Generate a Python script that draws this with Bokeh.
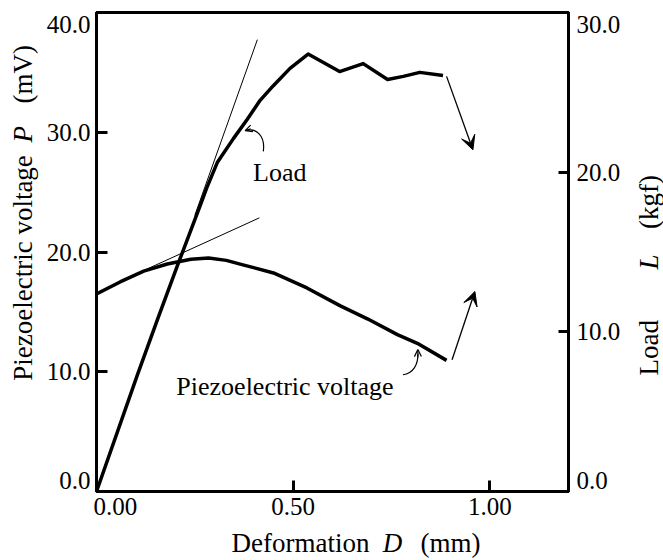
import math
from bokeh.plotting import figure
from bokeh.layouts import column, row
from bokeh.core.properties import value
from bokeh.models import (Range1d, LinearAxis, FixedTicker, NumeralTickFormatter,
                          Label, Arrow, VeeHead, OpenHead)
from bokeh.embed import file_html
from bokeh.resources import INLINE

# ---------------- data ----------------
load_x = [0.0, 0.104, 0.157, 0.205, 0.239, 0.265, 0.280, 0.307, 0.348, 0.383,
          0.416, 0.449, 0.492, 0.538, 0.618, 0.678, 0.740, 0.780, 0.822, 0.881]
load_kgf = [0.0, 7.3, 10.9, 14.1, 16.3, 18.0, 19.0, 20.6, 22.1, 23.3,
            24.5, 25.4, 26.5, 27.4, 26.3, 26.8, 25.8, 26.0, 26.25, 26.05]

volt_x = [0.0, 0.06, 0.12, 0.18, 0.24, 0.285, 0.33, 0.37, 0.45, 0.535,
          0.62, 0.69, 0.765, 0.82, 0.89]
volt_mv = [16.5, 17.5, 18.4, 19.0, 19.4, 19.5, 19.3, 18.95, 18.25, 17.0,
           15.5, 14.4, 13.1, 12.3, 10.95]

load_tangent_x = [0.25, 0.409]
load_tangent_kgf = [17.3, 28.3]
volt_tangent_x = [0.12, 0.414]
volt_tangent_mv = [18.45, 22.85]

load_drop_x = [0.890, 0.957]
load_drop_kgf = [26.0, 21.4]
volt_jump_x = [0.904, 0.962]
volt_jump_mv = [11.0, 16.7]

x_ticks = [0.0, 0.5, 1.0]
x_tick_labels = ["0.00", "0.50", "1.00"]
left_ticks = [0, 10, 20, 30, 40]
left_tick_labels = ["0.0", "10.0", "20.0", "30.0", "40.0"]
right_ticks = [0, 10, 20, 30]
right_tick_labels = ["0.0", "10.0", "20.0", "30.0"]

x_title = ["Deformation", "D", "(mm)"]
left_title = ["Piezoelectric voltage", "P", "(mV)"]
right_title = ["Load", "L", "(kgf)"]
title_italic = ["normal", "italic", "normal"]

SERIF = "Liberation Serif"
NBSP = "\u00a0"

# page geometry (pixels)
MAIN_H = 522
TOP, BOTTOM = 12, 30

# ---------------- main plot ----------------
p = figure(width=583, height=MAIN_H, output_backend="svg", toolbar_location=None,
           x_range=Range1d(0, 1.2), y_range=Range1d(0, 40),
           x_axis_location=None, y_axis_location=None,
           min_border_left=56, min_border_right=54, min_border_top=TOP,
           min_border_bottom=BOTTOM)
p.extra_y_ranges = {"load": Range1d(0, 30)}
for g in p.grid:
    g.visible = False
p.outline_line_color = "black"
p.outline_line_width = 3
p.background_fill_color = "white"
p.border_fill_color = "white"


def style_axis(ax, standoff, tick_in):
    ax.axis_line_width = 3
    ax.axis_line_color = "black"
    ax.major_tick_line_width = 3
    ax.major_tick_in = tick_in
    ax.major_tick_out = 0
    ax.minor_tick_line_color = None
    ax.major_label_text_font = SERIF
    ax.major_label_text_font_size = "25px"
    ax.major_label_text_color = "black"
    ax.major_label_standoff = standoff


xaxis = LinearAxis(ticker=FixedTicker(ticks=x_ticks),
                   formatter=NumeralTickFormatter(format="0.00"))
style_axis(xaxis, 1, 11)
# first label sits just right of the corner, as in the reference
xaxis.major_label_overrides = {0: NBSP * 6 + x_tick_labels[0]}
p.add_layout(xaxis, "below")

laxis = LinearAxis(ticker=FixedTicker(ticks=left_ticks),
                   formatter=NumeralTickFormatter(format="0.0"))
style_axis(laxis, 6, 11)
laxis.major_label_text_line_height = 0.4
laxis.major_label_overrides = {0: left_tick_labels[0] + "\n\n",
                               40: "\n" + left_tick_labels[-1]}
p.add_layout(laxis, "left")

raxis = LinearAxis(y_range_name="load", ticker=FixedTicker(ticks=right_ticks),
                   formatter=NumeralTickFormatter(format="0.0"))
style_axis(raxis, 8, 10)
raxis.major_label_text_line_height = 0.4
raxis.major_label_overrides = {0: right_tick_labels[0] + "\n\n",
                               30: "\n" + right_tick_labels[-1]}
p.add_layout(raxis, "right")

# curves
p.line(load_x, load_kgf, y_range_name="load", line_color="black", line_width=3.5,
       line_join="round")
p.line(volt_x, volt_mv, line_color="black", line_width=3.5, line_join="round")
p.line(load_tangent_x, load_tangent_kgf, y_range_name="load", line_color="black",
       line_width=1)
p.line(volt_tangent_x, volt_tangent_mv, line_color="black", line_width=1)

p.add_layout(Arrow(end=VeeHead(size=14, fill_color="black", line_color="black", line_width=1),
                   x_start=load_drop_x[0], y_start=load_drop_kgf[0],
                   x_end=load_drop_x[1], y_end=load_drop_kgf[1],
                   y_range_name="load", line_color="black", line_width=1.3))
p.add_layout(Arrow(end=VeeHead(size=14, fill_color="black", line_color="black", line_width=1),
                   x_start=volt_jump_x[0], y_start=volt_jump_mv[0],
                   x_end=volt_jump_x[1], y_end=volt_jump_mv[1],
                   line_color="black", line_width=1.3))

# curve labels
p.add_layout(Label(x=0.398, y=26.67, text="Load", text_font=SERIF, text_font_size="26px",
                   text_align="left", text_baseline="alphabetic", text_color="black"))
p.add_layout(Label(x=0.203, y=8.75, text="Piezoelectric voltage", text_font=SERIF,
                   text_font_size="26px", text_align="left", text_baseline="alphabetic",
                   text_color="black"))

# small curled pointers
p.bezier(x0=[0.424], y0=[21.3], x1=[0.383], y1=[22.62], cx0=[0.430], cy0=[22.3],
         cx1=[0.405], cy1=[22.75], y_range_name="load", line_color="black", line_width=1.2)
p.add_layout(Arrow(end=OpenHead(size=7, line_color="black", line_width=1.2),
                   x_start=0.392, y_start=22.72, x_end=0.378, y_end=22.6,
                   y_range_name="load", line_color="black", line_width=1.2))
p.bezier(x0=[0.779], y0=[9.75], x1=[0.817], y1=[11.5], cx0=[0.805], cy0=[9.85],
         cx1=[0.818], cy1=[10.6], line_color="black", line_width=1.2)
p.add_layout(Arrow(end=OpenHead(size=7, line_color="black", line_width=1.2),
                   x_start=0.8172, y_start=11.2, x_end=0.817, y_end=11.85,
                   line_color="black", line_width=1.2))


# ---------------- title strips (pixel-coordinate canvases) ----------------
def side_strip(w):
    # same top/bottom borders as the main plot so the row keeps frames aligned;
    # y range is in page pixels measured upward from the strip's bottom edge
    f = figure(width=w, height=MAIN_H, output_backend="svg", toolbar_location=None,
               x_range=Range1d(0, w), y_range=Range1d(BOTTOM, MAIN_H - TOP),
               x_axis_location=None, y_axis_location=None,
               min_border_left=0, min_border_right=0, min_border_top=TOP,
               min_border_bottom=BOTTOM, outline_line_color=None)
    for g in f.grid:
        g.visible = False
    f.background_fill_color = "white"
    f.border_fill_color = "white"
    return f


def pieces(f, texts, xs, page_ys):
    for t, st, x, py in zip(texts, title_italic, xs, page_ys):
        f.text(x=[x], y=[MAIN_H - py], text=[t], angle=math.pi / 2,
               text_font=value(SERIF), text_font_size=value("27px"),
               text_font_style=value(st), text_align="center",
               text_baseline="middle", text_color="black")


left_fig = side_strip(40)
pieces(left_fig, left_title, [22, 22, 22], [268, 134, 74])

right_fig = side_strip(40)
pieces(right_fig, right_title, [25, 25, 25], [348, 262, 202])

BOT_H = 560 - MAIN_H
bottom_fig = figure(width=663, height=BOT_H, output_backend="svg", toolbar_location=None,
                    x_range=Range1d(0, 663), y_range=Range1d(0, BOT_H),
                    x_axis_location=None, y_axis_location=None, min_border=0,
                    outline_line_color=None)
for g in bottom_fig.grid:
    g.visible = False
for t, st, x in zip(x_title, title_italic, [300, 392, 450]):
    bottom_fig.text(x=[x], y=[560 - 542], text=[t], text_font=value(SERIF),
                    text_font_size=value("27px"), text_font_style=value(st),
                    text_align="center", text_baseline="alphabetic", text_color="black")

page = column(row(left_fig, p, right_fig, spacing=0), bottom_fig, spacing=0)
open("out.html", "w").write(file_html(page, INLINE))
